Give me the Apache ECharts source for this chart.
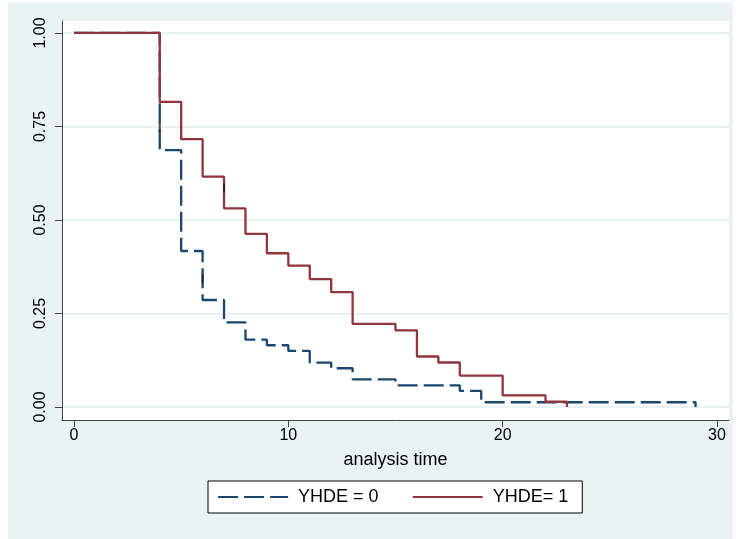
<!DOCTYPE html>
<html>
<head>
<meta charset="utf-8">
<title>Kaplan-Meier survival estimates</title>
<script src="https://cdn.jsdelivr.net/npm/echarts@6/dist/echarts.min.js"></script>
<style>
  html, body { margin: 0; padding: 0; background: #ffffff; }
  #chart { width: 738px; height: 539px; }
</style>
</head>
<body>
<div id="chart"></div>
<script>
// Kaplan-Meier survivor function by YHDE group (step at each event time)
const seriesNames = ['YHDE = 0', 'YHDE= 1'];

const timeGroup0 = [0, 4, 5, 6, 7, 8, 9, 10, 11, 12, 13, 15, 18, 19, 29];
const survGroup0 = [1, 0.687, 0.417, 0.286, 0.226, 0.180, 0.165, 0.150, 0.1185, 0.1035, 0.074, 0.058, 0.043, 0.0126, 0];

const timeGroup1 = [0, 4, 5, 6, 7, 8, 9, 10, 11, 12, 13, 15, 16, 17, 18, 20, 22, 23];
const survGroup1 = [1, 0.816, 0.716, 0.616, 0.531, 0.463, 0.411, 0.378, 0.342, 0.307, 0.222, 0.205, 0.135, 0.119, 0.084, 0.031, 0.014, 0];

// censoring ticks
const censorTime = [4, 6, 7];
const censorSurv = [0.748, 0.343, 0.585];

const xTicks = [0, 10, 20, 30];
const yTicks = [0, 0.25, 0.5, 0.75, 1];

const xTitle = 'analysis time';

const FONT = '"Liberation Sans", Arial, Helvetica, sans-serif';
const BG = '#eaf2f3';
const GRID_LINE = '#e3edef';
const NAVY = '#1a476f';
const MAROON = '#90353b';

const pair = (xs, ys) => xs.map((x, i) => [x, ys[i]]);

const chart = echarts.init(document.getElementById('chart'), null, { renderer: 'canvas' });

chart.setOption({
  animation: false,
  backgroundColor: '#ffffff',
  graphic: [{
    type: 'rect',
    z: -10,
    silent: true,
    shape: { x: 8, y: 2, width: 725, height: 537 },
    style: { fill: BG }
  }],
  grid: {
    left: 62, right: 9, top: 21, bottom: 119,
    show: true, backgroundColor: '#ffffff', borderWidth: 0
  },
  xAxis: {
    type: 'value',
    min: -0.56, max: 30.56,
    name: xTitle,
    nameLocation: 'middle',
    nameGap: 31,
    nameTextStyle: { fontFamily: FONT, fontSize: 18, color: '#000' },
    axisLine: { show: true, onZero: false, lineStyle: { color: '#444', width: 1 } },
    axisTick: { show: true, length: 7, customValues: xTicks, lineStyle: { color: '#444' } },
    axisLabel: { customValues: xTicks, margin: 8, fontFamily: FONT, fontSize: 16, color: '#000' },
    splitLine: { show: false }
  },
  yAxis: {
    type: 'value',
    min: -0.0348, max: 1.032,
    axisLine: { show: true, onZero: false, lineStyle: { color: '#444', width: 1 } },
    axisTick: { show: true, length: 7, customValues: yTicks, lineStyle: { color: '#444' } },
    axisLabel: {
      customValues: yTicks, rotate: 90, margin: 13,
      fontFamily: FONT, fontSize: 16, color: '#000',
      formatter: v => v.toFixed(2)
    },
    splitLine: { show: true, lineStyle: { color: GRID_LINE, width: 1.5 } }
  },
  legend: {
    left: 208, top: 481,
    orient: 'horizontal',
    padding: [7, 14, 7, 9],
    itemGap: 33,
    itemWidth: 70, itemHeight: 14,
    backgroundColor: '#ffffff',
    borderColor: '#000', borderWidth: 1,
    borderRadius: 0,
    itemStyle: { opacity: 0 },
    lineStyle: { width: 2.2 },
    textStyle: { fontFamily: FONT, fontSize: 18, color: '#000', padding: [0, 0, 0, 5] },
    data: seriesNames
  },
  series: [
    {
      name: seriesNames[0],
      type: 'line',
      step: 'end',
      symbol: 'none',
      data: pair(timeGroup0, survGroup0),
      lineStyle: { color: NAVY, width: 2.3, type: [20, 6] },
      itemStyle: { color: NAVY },
      z: 3
    },
    {
      name: seriesNames[1],
      type: 'line',
      step: 'end',
      symbol: 'none',
      data: pair(timeGroup1, survGroup1),
      lineStyle: { color: MAROON, width: 2.3, type: 'solid' },
      itemStyle: { color: MAROON },
      z: 4
    },
    {
      name: 'censored',
      type: 'scatter',
      symbol: 'rect',
      symbolSize: [2, 9],
      data: pair(censorTime, censorSurv),
      itemStyle: { color: '#1c1c1c' },
      z: 5
    }
  ]
});
</script>
</body>
</html>
